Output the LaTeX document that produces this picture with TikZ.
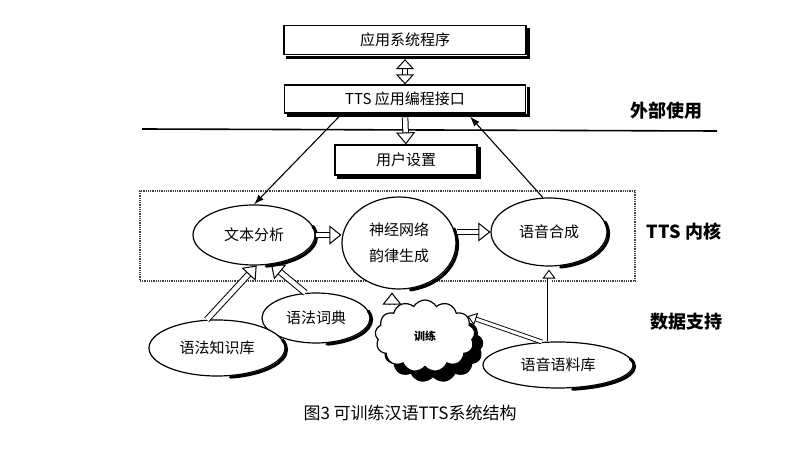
\documentclass[tikz,border=0pt]{standalone}
\usepackage{fontspec}
\setmainfont{Noto Sans CJK SC}
\usetikzlibrary{arrows.meta,shapes.geometric,shapes.symbols,calc}
\tikzset{
  sysbox/.style={rectangle, draw, line width=1.2pt, fill=white, inner sep=0pt,
                 font=\fontsize{15}{18}\selectfont},
  module/.style={ellipse, draw, line width=1.2pt, fill=white, inner sep=0pt, align=center,
                 font=\fontsize{15}{26}\selectfont},
  puff/.style={cloud, cloud puffs=13, cloud puff arc=120, aspect=1.4, draw, line width=1.2pt,
               fill=white, minimum width=100pt, minimum height=72pt, inner sep=0pt},
  edgeshadow/.style={line width=3pt, line cap=round},
  kernframe/.style={rectangle, draw=black!75, line width=1.6pt, dash pattern=on 1pt off 0.8pt},
  side/.style={font=\fontsize{18}{20}\selectfont\bfseries},
  hollow/.style={double, double distance=4.5pt, line width=1pt, -{Triangle[open, length=12pt, width=19pt]}},
  hollowboth/.style={double, double distance=4.5pt, line width=1pt,
                     {Triangle[open, length=10pt, width=18pt]}-{Triangle[open, length=10pt, width=18pt]}},
  slim/.style={double, double distance=3pt, line width=0.9pt, -{Triangle[open, length=9pt, width=13pt]}},
  arr/.style={-{Latex[length=10pt, width=7pt]}, line width=1.1pt},
}
\begin{document}
\begin{tikzpicture}[x=1pt, y=-1pt]
  \useasboundingbox (0,0) rectangle (809,454);
  \node[kernframe, minimum width=495pt, minimum height=90pt] (core) at (387.5,236) {};
  \node[sysbox, minimum width=242pt, minimum height=29pt] (app) at (405,40) {应用系统程序};
  \node[sysbox, minimum width=241pt, minimum height=28pt] (api) at (405,99) {TTS 应用编程接口};
  \node[sysbox, minimum width=142pt, minimum height=30pt] (user) at (406,160) {用户设置};
  \draw[line width=1.6pt] (142,129) -- (717,131);
  \node[side] (ext) at (666,111) {外部使用};
  \node[side] (kern) at (684,232) {TTS 内核};
  \node[side] (data) at (686,322) {数据支持};

  \node[module, minimum width=122pt, minimum height=60pt] (text) at (254,235) {文本分析};
  \node[module, minimum width=114pt, minimum height=92pt] (nn) at (399,243) {神经网络\\韵律生成};
  \node[module, minimum width=116pt, minimum height=68pt] (synth) at (549,232) {语音合成};
  \node[module, minimum width=108pt, minimum height=50pt] (gd) at (316,318) {语法词典};
  \node[module, minimum width=136pt, minimum height=56pt] (gk) at (217,348) {语法知识库};
  \node[puff, fill=black] (trainshadow) at (433,346) {};
  \node[puff, font=\fontsize{11}{13}\selectfont\bfseries] (train) at (425,336) {训练};
  \node[module, minimum width=150pt, minimum height=46pt] (corp) at (558,365) {语音语料库};

  \foreach \n in {app,api,user}
    \draw[edgeshadow, line cap=butt] ([xshift=2.1pt, yshift=-3pt]\n.north east)
      -- ([xshift=2.1pt, yshift=-2.1pt]\n.south east) -- ([xshift=3pt, yshift=-2.1pt]\n.south west);
  \foreach \n/\rx/\ry in {text/61/30, nn/57/46, synth/58/34, gd/54/25, gk/68/28, corp/75/23}
    \draw[edgeshadow] ([shift={(1.6pt,-1.6pt)}]\n.center) ++(-80:\rx pt and \ry pt)
      arc[start angle=-80, end angle=20, x radius=\rx pt, y radius=\ry pt];

  \draw[hollowboth, shorten <=4pt] (app.south) -- (api.north);
  \draw[hollow, shorten <=4pt] (api.south) -- (user.north);
  \draw[arr] ([xshift=-63pt]api.south) -- (text.north);
  \draw[arr] (synth.100) -- ([xshift=65pt, yshift=-3pt]api.south);
  \draw[hollow] (text.east) -- (text.east -| nn.west);
  \draw[hollow] (synth.west -| nn.east) -- (synth.west);
  \draw[hollow] (gk.110) -- (text.-85);
  \draw[hollow] (gd.113) -- (text.-60);
  \draw[hollow] ([xshift=-33pt, yshift=-6pt]train.north) -- ([xshift=-7pt, yshift=-3pt]nn.south);
  \draw[slim] (corp.125) -- (train.25);
  \draw[slim] (corp.north -| synth.south) -- ([yshift=-3pt]synth.south);

  \node[font=\fontsize{17}{20}\selectfont] (cap) at (410,413) {图3 可训练汉语TTS系统结构};
\end{tikzpicture}
\end{document}
